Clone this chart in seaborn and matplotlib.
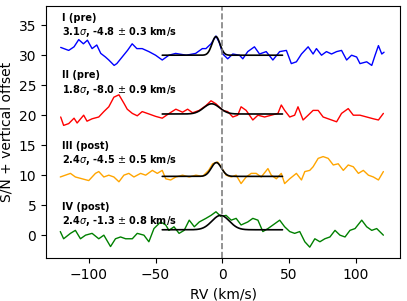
import numpy as np
import pandas as pd
import matplotlib
matplotlib.use("Agg")
import matplotlib.pyplot as plt
import seaborn as sns

# RV grids (km/s) and S/N values (with offsets already included)
rv_I = [-121, -115, -111, -107.5, -104, -101, -97.5, -94, -91, -87.5, -85, -81, -79, -75, -71, -67.5,
        -64, -60, -55, -50, -45, -40, -35, -27, -20, -15, -12.3, -8.5, -4.8, -2.3, 0.3, 4, 7.8,
        12.8, 15.3, 19, 24, 27.8, 32.8, 37.8, 42.9, 47.9, 51.6, 55.4, 59.2, 64.2, 67.9, 70.4,
        74.2, 77.9, 81.7, 85.5, 89.2, 93, 96.7, 100.5, 103, 108, 111.8, 114.3, 116.8, 119.3, 121]
sn_I = [31.3, 30.8, 31.4, 32.6, 31.9, 32.5, 31.1, 31.7, 30.3, 29.7, 29.2, 28.3, 28.6, 29.7, 30.8, 31.9,
        31.1, 31.1, 30.6, 30.0, 29.2, 30.0, 30.3, 30.0, 30.3, 31.1, 31.1, 31.9, 33.2, 32.1, 30.2, 29.4, 30.2,
        30.0, 29.4, 30.6, 31.4, 30.2, 30.6, 29.2, 30.6, 30.8, 28.6, 28.9, 30.2, 31.4, 30.2, 31.1,
        30.0, 30.6, 30.2, 30.6, 30.8, 29.2, 30.0, 29.7, 28.6, 28.9, 28.3, 30.0, 31.6, 30.2, 30.5]

rv_II = [-121, -118.8, -115, -111, -108.7, -103.8, -101.3, -97.5, -92.5, -88.7, -85, -81.2, -77.4,
         -73.7, -71.2, -67.4, -63.7, -60, -54.9, -49.9, -45, -39.8, -34.8, -29.8, -26, -22.3,
         -17.3, -12.3, -8.5, -4.8, 0.3, 4, 7.8, 11.5, 14, 17.8, 22.8, 26.6, 31.6, 36.6, 41.6, 44.1,
         46.6, 50.4, 54.1, 56.6, 60.4, 64.2, 67.9, 71.7, 75.4, 79.2, 85.5, 89.2, 94.2, 98, 103, 108,
         113, 116.8, 120.5]
sn_II = [19.7, 18.3, 18.6, 19.5, 18.7, 20.0, 19.0, 19.4, 19.7, 20.6, 21.4, 23.0, 23.4,
         22.0, 21.0, 20.3, 19.9, 20.6, 20.2, 19.8, 19.5, 20.3, 21.0, 20.5, 21.0, 20.4,
         20.8, 21.6, 22.4, 21.9, 20.8, 20.6, 19.7, 20.0, 21.4, 20.8, 19.2, 20.0, 19.7, 20.0, 20.3, 21.7,
         20.8, 19.7, 20.0, 21.4, 19.2, 20.0, 20.8, 20.8, 19.7, 19.4, 18.9, 20.3, 21.1, 20.0, 20.0, 19.7,
         19.4, 19.2, 20.3]

rv_III = [-121.3, -117.5, -113.7, -110, -105, -100, -95, -92.5, -88.7, -85, -81.2, -77.4, -73.7,
          -70, -66.2, -61.2, -57.4, -52.4, -48.7, -45, -42.4, -38.7, -34.8, -29.8, -24.8, -19.8,
          -14.8, -10.3, -7.3, -3.6, -1, 2.8, 6.6, 10.3, 14, 17.8, 21.6, 25.3, 29.1, 34.1, 36.6, 40.4,
          44.1, 46.6, 50.4, 55.4, 59.2, 61.7, 65.4, 67.9, 71.7, 75.4, 79.2, 83, 86.7, 90.5, 94.2,
          98, 101.8, 105.5, 109.3, 113, 116.8, 120.5]
sn_III = [9.7, 10.0, 10.3, 9.7, 9.4, 9.1, 10.3, 10.6, 9.7, 10.0, 9.7, 8.9, 10.0,
          10.3, 9.7, 10.3, 10.0, 10.8, 10.3, 10.8, 9.4, 9.2, 9.7, 10.0, 9.7, 10.0,
          9.8, 10.8, 11.9, 12.2, 11.4, 10.0, 9.7, 10.0, 8.6, 9.7, 10.3, 10.3, 9.7, 11.1, 10.0, 9.4,
          10.3, 8.6, 9.4, 10.3, 9.2, 10.6, 10.8, 11.4, 12.8, 13.1, 12.8, 11.7, 11.9, 10.8, 11.7,
          11.4, 10.3, 10.8, 10.0, 9.7, 9.2, 10.6]

rv_IV = [-121.3, -118.8, -113.7, -110, -106.2, -102.4, -97.5, -92.5, -88.7, -83.7, -80, -76.2,
         -72.4, -67.4, -63.7, -58.7, -55, -51.2, -46.2, -42.4, -40, -36.2, -32.4, -28.6, -24.8,
         -21, -17.3, -12.3, -8.5, -4.8, -1, 2.8, 6.6, 10.3, 14, 19, 22.8, 26.6, 30.3, 34.1, 37.9,
         42.9, 46.6, 50.4, 54.1, 57.9, 61.7, 65.4, 69.2, 73, 76.7, 80.5, 84.3, 88, 91.8, 95.5, 99.3,
         104.3, 108, 111.8, 115.5, 120.5]
sn_IV = [0.6, -0.6, 0.3, 0.8, -0.6, 0.0, 0.3, -0.6, 0.0, -1.9, -0.6, -0.3,
         -0.6, -0.6, 0.3, 0.0, -1.1, 1.1, 2.2, 1.7, 0.8, 1.4, 0.3, 0.8, 2.5,
         1.4, 2.2, 2.8, 3.3, 3.9, 3.1, 3.3, 2.5, 2.8, 1.7, 2.2, 2.8, 2.5, 0.6, 1.1, 1.7,
         2.5, 1.4, 0.6, 0.3, 0.6, -1.1, -2.0, -0.6, -1.1, -0.6, -0.3, 0.8, 0.0, -0.3, 0.8, 1.1,
         2.5, 1.4, 0.8, 1.1, 0.0]

# Gaussian fit parameters: (baseline, amplitude, centre, sigma)
fit_I = (30.0, 3.1, -4.8, 3.0)
fit_II = (20.2, 1.7, -8.0, 6.0)
fit_III = (9.8, 2.3, -4.5, 3.8)
fit_IV = (0.9, 2.4, -1.3, 6.5)

labels = ["I (pre)\n3.1$\\sigma$, -4.8 $\\pm$ 0.3 km/s",
          "II (pre)\n1.8$\\sigma$, -8.0 $\\pm$ 0.9 km/s",
          "III (post)\n2.4$\\sigma$, -4.5 $\\pm$ 0.5 km/s",
          "IV (post)\n2.4$\\sigma$, -1.3 $\\pm$ 0.8 km/s"]
label_y = [34.9, 25.3, 13.5, 3.4]
colors = ["blue", "red", "orange", "green"]

sns.set_style("ticks")
plt.rcParams["font.family"] = ["DejaVu Sans"]
plt.rcParams["text.color"] = "black"
plt.rcParams["axes.labelcolor"] = "black"

fig, ax = plt.subplots(figsize=(4.07, 3.01), dpi=100)
fig.subplots_adjust(left=0.113, right=0.983, top=0.980, bottom=0.143)

series = [(rv_I, sn_I, fit_I), (rv_II, sn_II, fit_II), (rv_III, sn_III, fit_III), (rv_IV, sn_IV, fit_IV)]
rv_fit = np.linspace(-45, 45, 300)
for (rv, sn, fit), c, lab, ly in zip(series, colors, labels, label_y):
    sns.lineplot(x=rv, y=sn, color=c, lw=1.0, ax=ax, estimator=None, sort=False)
    base, amp, mu, sig = fit
    model = base + amp * np.exp(-0.5 * ((rv_fit - mu) / sig) ** 2)
    sns.lineplot(x=rv_fit, y=model, color="black", lw=1.2, ax=ax, estimator=None)
    ax.text(-120, ly, lab, fontsize=7, fontweight="bold", va="center", ha="left",
            linespacing=1.25, color="black")

ax.axvline(0, color="gray", ls="--", lw=1.2)
ax.set_xlim(-132, 133)
ax.set_ylim(-3.8, 38.2)
ax.set_xticks([-100, -50, 0, 50, 100])
ax.set_yticks([0, 5, 10, 15, 20, 25, 30, 35])
ax.tick_params(labelsize=10, direction="out", length=3.5, width=0.8, colors="black")
for s in ax.spines.values():
    s.set_color("black")
    s.set_linewidth(0.8)
ax.set_xlabel("RV (km/s)", fontsize=10)
ax.set_ylabel("S/N + vertical offset", fontsize=10)

fig.savefig("out.png", dpi=100)
